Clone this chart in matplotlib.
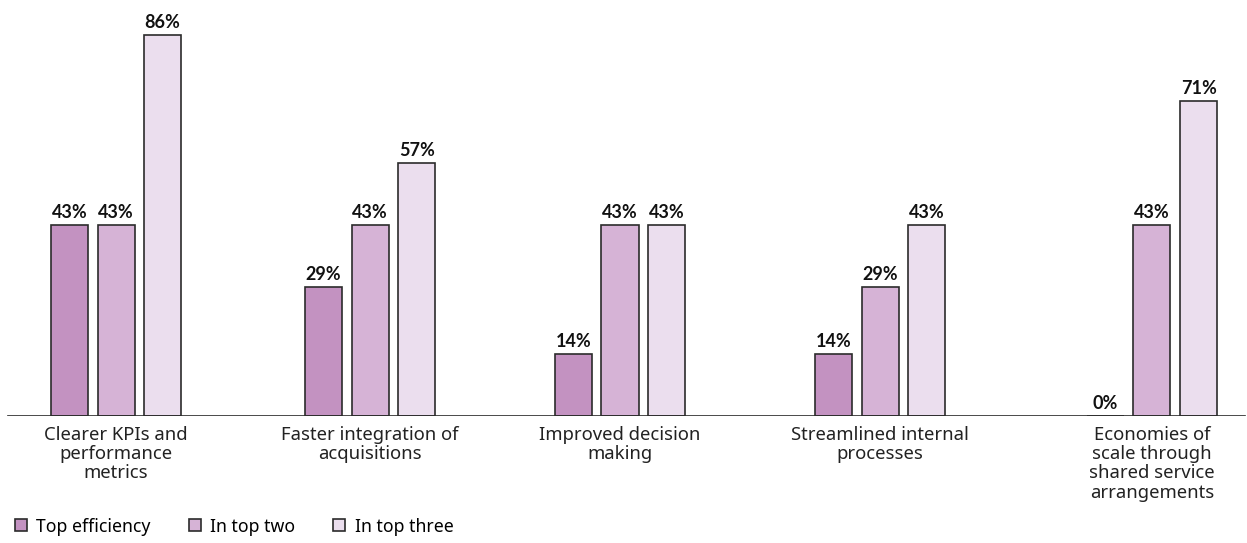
import numpy as np
import matplotlib
matplotlib.use('Agg')
import matplotlib.pyplot as plt
from matplotlib.patches import Patch

# --- Data ---
categories = [
    "Clearer KPIs and\nperformance\nmetrics",
    "Faster integration of\nacquisitions",
    "Improved decision\nmaking",
    "Streamlined internal\nprocesses",
    "Economies of\nscale through\nshared service\narrangements",
]
series_names = ["Top efficiency", "In top two", "In top three"]
top_efficiency = [43, 29, 14, 14, 0]
in_top_two = [43, 43, 43, 29, 43]
in_top_three = [86, 57, 43, 43, 71]

colors = ["#c392c1", "#d6b3d6", "#ebdeee"]
EDGE = "#2b2b2b"

# group centres along the axis (groups are not evenly spaced)
group_pos = np.array([0.0, 0.981, 1.946, 2.950, 4.0])
width = 0.143
offset = 0.18

plt.rcParams['font.family'] = ['Noto Sans', 'DejaVu Sans']

fig = plt.figure(figsize=(12.47, 5.43), dpi=100)
ax = fig.add_axes([0.0, 0.2340, 1.0, 0.7343])

for i, (vals, name, col) in enumerate(zip([top_efficiency, in_top_two, in_top_three],
                                           series_names, colors)):
    pos = group_pos + (i - 1) * offset
    ax.bar(pos, vals, width=width, color=col, edgecolor=EDGE,
           linewidth=1.2, label=name, zorder=2)
    for xp, v in zip(pos, vals):
        ax.annotate(f"{v}%", (xp, v), xytext=(0, 3), textcoords='offset points',
                    ha='center', va='bottom', fontsize=13, fontweight='bold',
                    family=['Lato', 'DejaVu Sans'], color='#111111')

ax.set_xlim(-0.448, 4.367)
ax.set_ylim(0, 90)
ax.axhline(0, xmin=0.0064, xmax=0.998, color=EDGE, linewidth=1.2, zorder=3)

ax.set_xticks(group_pos)
ax.set_xticklabels(categories, fontsize=13.3, linespacing=1.1, color='#222222')
ax.tick_params(axis='x', length=0, pad=7)
ax.set_yticks([])
for s in ax.spines.values():
    s.set_visible(False)

handles = [Patch(facecolor=c, edgecolor=EDGE, linewidth=1.2) for c in colors]
fig.legend(handles, series_names, loc='lower left', bbox_to_anchor=(0.0058, 0.0),
           ncol=3, frameon=False, fontsize=12.7, handlelength=0.68, handleheight=0.68,
           handletextpad=0.55, columnspacing=2.15, borderaxespad=0.02)

fig.savefig("out.png", dpi=100)
